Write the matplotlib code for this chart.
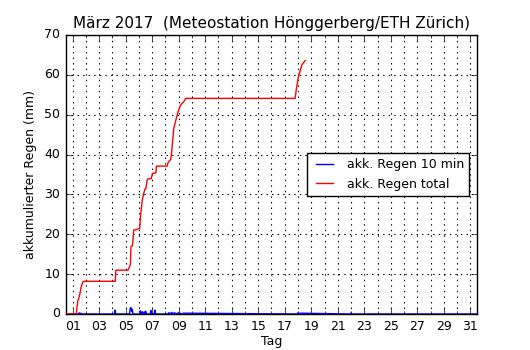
import matplotlib
matplotlib.use("Agg")
import matplotlib.pyplot as plt
from matplotlib.ticker import MultipleLocator, FixedLocator

# akkumulierter Regen total (mm), Tag im März als Kommazahl
total_days = [0.5, 1.28, 1.32, 1.40, 1.45, 1.58, 1.65, 1.78, 1.85, 4.22, 4.26, 5.18, 5.30, 5.36, 5.40,
              5.52, 5.61, 5.72, 6.06, 6.12, 6.25, 6.37, 6.45, 6.52, 6.62, 6.69, 6.94, 7.02, 7.28,
              7.32, 8.13, 8.20, 8.40, 8.46, 8.63, 8.79, 8.96, 9.14, 9.39, 9.54, 17.78, 17.90,
              18.03, 18.29, 18.45, 18.54]
total_mm = [0.0, 0.0, 1.5, 3.5, 3.6, 5.6, 6.8, 8.1, 8.2, 8.2, 11.0, 11.0, 11.9, 12.5, 16.9,
            17.2, 21.1, 21.1, 21.5, 24.5, 28.5, 30.3, 31.3, 31.4, 33.6, 33.9, 34.0, 35.3, 35.4,
            37.1, 37.1, 38.0, 38.8, 40.3, 46.6, 48.7, 50.8, 52.4, 53.3, 54.1, 54.1, 57.0,
            59.5, 62.5, 63.2, 63.6]

# akkumulierter Regen pro 10 min (mm)
rain10_days = [0.5, 1.45, 1.50, 1.55, 1.62, 1.70, 4.18, 4.20, 4.25, 5.30, 5.34, 5.40, 5.46,
               5.50, 5.55, 6.05, 6.10, 6.15, 6.25, 6.30, 6.40, 6.45, 6.50, 6.60, 6.85, 6.90,
               6.95, 7.15, 7.20, 7.25, 8.20, 8.25, 8.40, 8.45, 8.60, 8.65, 8.90, 8.95, 9.30,
               9.35, 17.95, 18.00, 18.10, 18.15, 21.95, 22.00, 22.05, 31.5]
rain10_mm = [0.0, 0.0, 0.3, 0.0, 0.2, 0.0, 0.0, 1.0, 0.0, 0.0, 1.3, 1.6, 0.6, 1.2, 0.0,
             0.0, 0.8, 0.0, 0.6, 0.0, 0.5, 0.0, 0.7, 0.0, 0.0, 0.9, 0.0, 0.0, 1.0, 0.0,
             0.0, 0.3, 0.0, 0.4, 0.0, 0.3, 0.0, 0.3, 0.0, 0.2, 0.0, 0.3, 0.0, 0.2, 0.0, 0.3,
             0.0, 0.0]

day_ticks = list(range(1, 32, 2))
day_labels = ["%02d" % d for d in day_ticks]

plt.style.use("classic")
fig = plt.figure(figsize=(5.3, 3.5), dpi=100)
fig.patch.set_facecolor("white")
ax = fig.add_axes([0.1245, 0.1029, 0.7755, 0.7971])

ax.plot(rain10_days, rain10_mm, color="b", lw=1, label="akk. Regen 10 min", zorder=3)
ax.plot(total_days, total_mm, color="r", lw=1, label="akk. Regen total", zorder=3)

ax.set_xlim(0.5, 31.5)
ax.set_ylim(0, 70)
ax.xaxis.set_major_locator(FixedLocator(day_ticks))
ax.set_xticklabels(day_labels)
ax.xaxis.set_minor_locator(MultipleLocator(1))
ax.yaxis.set_major_locator(MultipleLocator(10))
ax.tick_params(labelsize=9)
ax.grid(True, which="both", linestyle=":", color="k", lw=0.8)

ax.set_xlabel("Tag", fontsize=9, labelpad=2)
ax.set_ylabel("akkumulierter Regen (mm)", fontsize=9)
ax.set_title("März 2017  (Meteostation Hönggerberg/ETH Zürich)", fontsize=11)
ax.legend(loc="center right", fontsize=9, borderaxespad=0.6)

fig.savefig("out.png", dpi=100, facecolor="white")
